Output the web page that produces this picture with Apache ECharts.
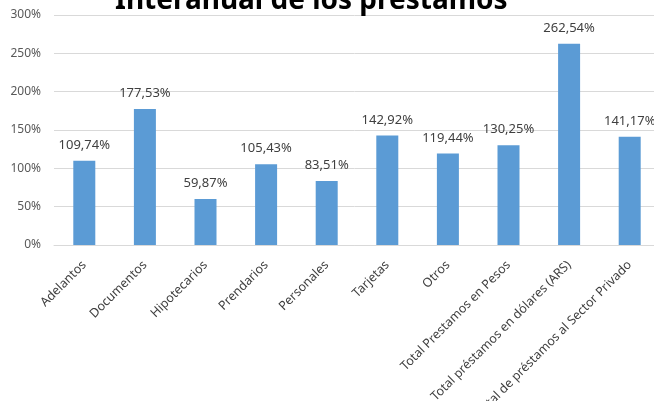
<!DOCTYPE html>
<html>
<head>
<meta charset="utf-8">
<script src="https://cdn.jsdelivr.net/npm/echarts@6/dist/echarts.min.js"></script>
<style>
  html, body { margin: 0; padding: 0; background: #fff; }
  #main { width: 654px; height: 401px; }
</style>
</head>
<body>
<div id="main"></div>
<script>
// categories and values (in %)
const categories = [
  "Adelantos", "Documentos", "Hipotecarios", "Prendarios", "Personales",
  "Tarjetas", "Otros", "Total Prestamos en Pesos",
  "Total préstamos en dólares (ARS)", "Total de préstamos al Sector Privado"
];
const variacion = [109.74, 177.53, 59.87, 105.43, 83.51, 142.92, 119.44, 130.25, 262.54, 141.17];

const font = "Noto Sans";
let myChart = echarts.init(document.getElementById("main"));
let option = {
  animation: false,
  textStyle: { fontFamily: font },
  // title is cut off at the top edge in the original
  title: {
    text: "Interanual de los préstamos",
    left: 110,
    top: -18,
    textStyle: { fontSize: 28, fontWeight: "bold", color: "#000", fontFamily: font }
  },
  grid: { left: 54, top: 15, width: 606, height: 230, containLabel: false, outerBoundsMode: "none" },
  xAxis: {
    type: "category",
    data: categories,
    axisTick: { show: false },
    axisLine: { lineStyle: { color: "#d9d9d9" } },
    axisLabel: { rotate: 45, interval: 0, color: "#404040", fontSize: 12.5, margin: 18 }
  },
  yAxis: {
    type: "value",
    min: 0,
    max: 300,
    interval: 50,
    axisLabel: { formatter: "{value}%", color: "#595959", fontSize: 12, margin: 13 },
    splitLine: { lineStyle: { color: "#d9d9d9" } }
  },
  series: [
    {
      type: "bar",
      data: variacion,
      barWidth: 22,
      itemStyle: { color: "#5b9bd5" },
      label: {
        show: true,
        position: "top",
        distance: 9,
        color: "#404040",
        fontSize: 13,
        formatter: (p) => p.value.toFixed(2).replace(".", ",") + "%"
      }
    }
  ]
};
myChart.setOption(option);
</script>
</body>
</html>
